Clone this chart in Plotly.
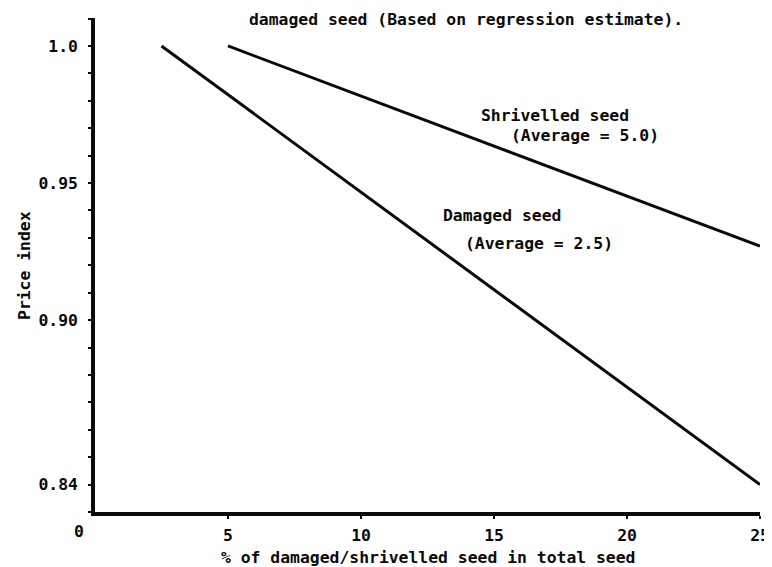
import plotly.graph_objects as go

# Data (regression lines)
damaged_x = [2.5, 25]
damaged_y = [1.0, 0.84]
shrivelled_x = [5, 25]
shrivelled_y = [1.0, 0.927]

x_ticks = [5, 10, 15, 20, 25]
x_ticklabels = ["5", "10", "15", "20", "25"]
y_ticks = [1.0, 0.95, 0.90, 0.84]
y_ticklabels = ["1.0", "0.95", "0.90", "0.84"]

title_text = "damaged seed (Based on regression estimate)."
x_title = "% of damaged/shrivelled seed in total seed"
y_title = "Price index"

FONT = "DejaVu Sans Mono"
FS = 16.4
INK = "#0a0a0a"

fig = go.Figure()
fig.add_trace(go.Scatter(x=damaged_x, y=damaged_y, mode="lines",
                         line=dict(color=INK, width=3), showlegend=False,
                         name="Damaged seed"))
fig.add_trace(go.Scatter(x=shrivelled_x, y=shrivelled_y, mode="lines",
                         line=dict(color=INK, width=3), showlegend=False,
                         name="Shrivelled seed"))

bold = lambda s: "<b>" + s + "</b>"

annotations = [
    dict(text=bold("Shrivelled seed"), x=14.44, y=0.9748, xref="x", yref="y",
         xanchor="left", yanchor="middle", showarrow=False),
    dict(text=bold("(Average = 5.0)"), x=15.56, y=0.9675, xref="x", yref="y",
         xanchor="left", yanchor="middle", showarrow=False),
    dict(text=bold("Damaged seed"), x=13.02, y=0.938, xref="x", yref="y",
         xanchor="left", yanchor="middle", showarrow=False),
    dict(text=bold("(Average = 2.5)"), x=13.84, y=0.928, xref="x", yref="y",
         xanchor="left", yanchor="middle", showarrow=False),
    dict(text=bold(title_text), x=0.558, y=1.0, xref="paper", yref="paper",
         xanchor="center", yanchor="middle", yshift=-1, showarrow=False),
    dict(text=bold(x_title), x=0.501, y=0, xref="paper", yref="paper",
         xanchor="center", yanchor="middle", yshift=-45, showarrow=False),
    dict(text=bold(y_title), x=0, y=0.498, xref="paper", yref="paper",
         xanchor="center", yanchor="middle", xshift=-70, textangle=-90,
         showarrow=False),
    dict(text=bold("0"), x=0, y=0, xref="paper", yref="paper",
         xanchor="center", yanchor="middle", xshift=-16, yshift=-19,
         showarrow=False),
]

fig.update_layout(
    width=772, height=567,
    margin=dict(l=87, r=15, t=10, b=63),
    paper_bgcolor="white", plot_bgcolor="white",
    font=dict(family=FONT, size=FS, color=INK),
    annotations=annotations,
    xaxis=dict(range=[0, 25], tickvals=x_ticks,
               ticktext=[bold(t) for t in x_ticklabels],
               showgrid=False, zeroline=False, showline=True,
               linecolor=INK, linewidth=3.5, ticks="outside", ticklen=3,
               tickwidth=2, tickcolor=INK, ticklabelstandoff=3),
    yaxis=dict(range=[0.830, 1.0102], tickvals=y_ticks,
               ticktext=[bold(t) for t in y_ticklabels],
               showgrid=False, zeroline=False, showline=True,
               linecolor=INK, linewidth=3.5, ticks="outside", ticklen=3,
               tickwidth=2, tickcolor=INK, ticklabelstandoff=7,
               minor=dict(dtick=0.01, tick0=0, ticks="outside", ticklen=3,
                          tickwidth=2, tickcolor=INK, showgrid=False)),
)

fig.write_html("out.html")
